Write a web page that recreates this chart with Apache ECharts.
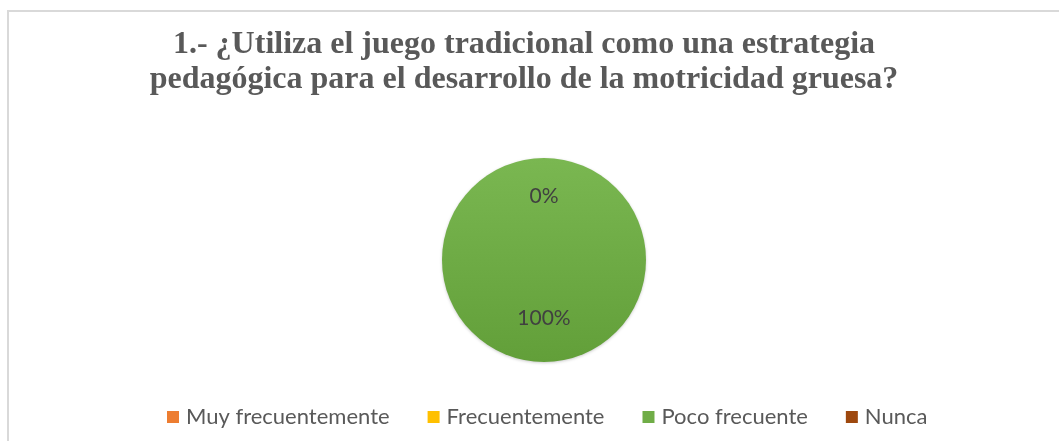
<!DOCTYPE html>
<html>
<head>
<meta charset="utf-8">
<script src="https://cdn.jsdelivr.net/npm/echarts@6/dist/echarts.min.js"></script>
<style>
  html, body { margin: 0; padding: 0; background: #fff; }
  #chart { width: 1059px; height: 441px; }
</style>
</head>
<body>
<div id="chart"></div>
<script>
  // categorias y valores (porcentajes)
  const categories = ['Muy frecuentemente', 'Frecuentemente', 'Poco frecuente', 'Nunca']
  const values = [0, 0, 100, 0]
  const colors = ['#ED7D31', '#FFC000', '#70AD47', '#9E480E']
  const titleText = '1.- ¿Utiliza el juego tradicional como una estrategia\npedagógica para el desarrollo de la motricidad gruesa?'

  // degradado vertical para cada color
  function shade(hex, amt) {
    const n = parseInt(hex.slice(1), 16)
    let r = (n >> 16) + amt, g = ((n >> 8) & 255) + amt, b = (n & 255) + amt
    r = Math.max(0, Math.min(255, r)); g = Math.max(0, Math.min(255, g)); b = Math.max(0, Math.min(255, b))
    return 'rgb(' + r + ',' + g + ',' + b + ')'
  }
  function grad(hex) {
    return new echarts.graphic.LinearGradient(0, 0, 0, 1, [
      { offset: 0, color: shade(hex, 10) },
      { offset: 1, color: shade(hex, -14) }
    ])
  }

  const chart = echarts.init(document.getElementById('chart'))
  chart.setOption({
    animation: false,
    color: colors,
    // borde del area del grafico
    graphic: [{
      type: 'rect',
      shape: { x: 8, y: 11, width: 1200, height: 600 },
      style: { fill: 'none', stroke: '#d9d9d9', lineWidth: 2 },
      silent: true
    }],
    title: {
      text: titleText,
      left: 519,
      textAlign: 'center',
      top: 22,
      textStyle: {
        fontFamily: 'Liberation Serif',
        fontWeight: 'bold',
        fontSize: 32,
        lineHeight: 35,
        color: '#595959'
      }
    },
    legend: {
      top: 401,
      left: 162,
      itemWidth: 12,
      itemHeight: 12,
      itemGap: 38,
      icon: 'rect',
      textStyle: {
        fontFamily: 'Lato',
        fontSize: 22,
        color: '#595959',
        padding: [0, 0, 0, 2]
      },
      data: categories.map((c, i) => ({ name: c, itemStyle: { color: colors[i] } }))
    },
    series: [{
      type: 'pie',
      center: [544, 260],
      radius: 102,
      startAngle: 90,
      clockwise: true,
      stillShowZeroSum: true,
      label: {
        show: true,
        position: 'inside',
        fontFamily: 'Lato',
        fontSize: 21,
        color: '#404040',
        formatter: p => Math.round(p.percent) + '%'
      },
      labelLayout: p => ({ dy: p.dataIndex === 2 ? 4 : -10, hideOverlap: true }),
      itemStyle: {
        shadowBlur: 3,
        shadowColor: 'rgba(0,0,0,0.2)',
        shadowOffsetY: 1
      },
      emphasis: { disabled: true },
      data: categories.map((c, i) => ({
        name: c,
        value: values[i],
        itemStyle: { color: grad(colors[i]) }
      }))
    }]
  })
</script>
</body>
</html>
